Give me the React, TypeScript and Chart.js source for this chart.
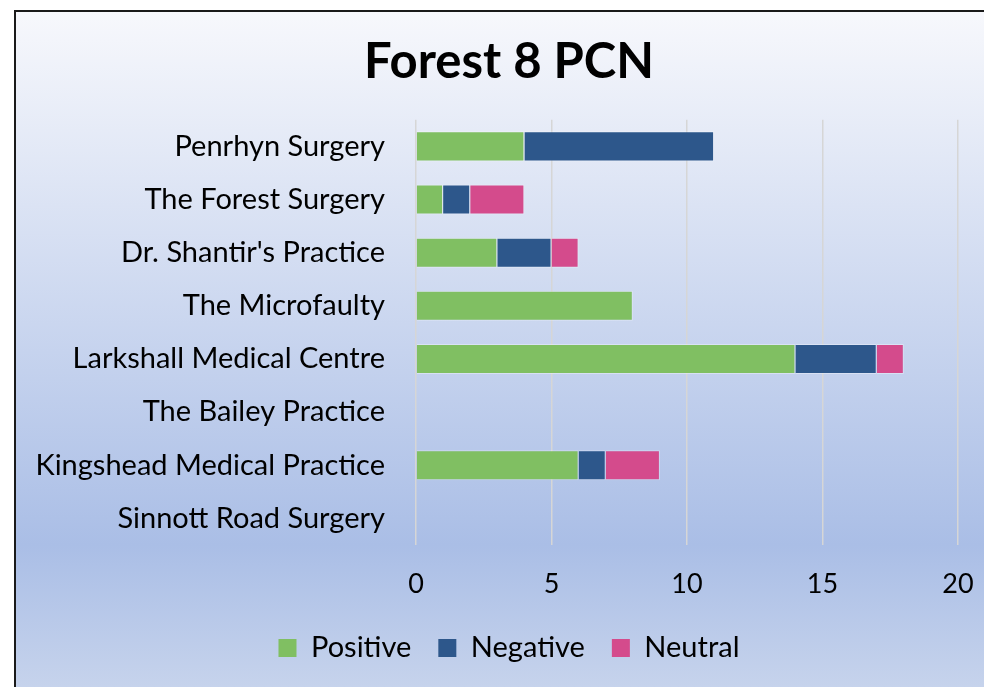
import React, { useEffect, useRef } from "react";
import { Chart, registerables } from "chart.js";

Chart.register(...registerables);

const categories = [
  "Penrhyn Surgery",
  "The Forest Surgery",
  "Dr. Shantir's Practice",
  "The Microfaulty",
  "Larkshall Medical Centre",
  "The Bailey Practice",
  "Kingshead Medical Practice",
  "Sinnott Road Surgery",
];
const positive = [4, 1, 3, 8, 14, 0, 6, 0];
const negative = [7, 1, 2, 0, 3, 0, 1, 0];
const neutral = [0, 2, 1, 0, 1, 0, 2, 0];
const xTicks = [0, 5, 10, 15, 20];

const FONT = "Lato, 'Open Sans', sans-serif";

export default function App() {
  const ref = useRef<HTMLCanvasElement | null>(null);

  useEffect(() => {
    if (!ref.current) return;
    const border = "rgba(255,255,255,0.35)";
    const chart = new Chart(ref.current, {
      type: "bar",
      data: {
        labels: categories,
        datasets: [
          { label: "Positive", data: positive, backgroundColor: "#80bf62", borderColor: border, borderWidth: 1 },
          { label: "Negative", data: negative, backgroundColor: "#2d578b", borderColor: border, borderWidth: 1 },
          { label: "Neutral", data: neutral, backgroundColor: "#d44b8c", borderColor: border, borderWidth: 1 },
        ],
      },
      options: {
        indexAxis: "y",
        animation: false,
        responsive: false,
        maintainAspectRatio: false,
        layout: { padding: { top: 0, left: 0, right: 0, bottom: 39.5 } },
        datasets: { bar: { categoryPercentage: 1, barPercentage: 0.565 } },
        scales: {
          x: {
            stacked: true,
            min: 0,
            max: 20,
            afterBuildTicks: (s: any) => {
              s.ticks = xTicks.map((v) => ({ value: v }));
            },
            afterFit: (s: any) => {
              s.height = 61.5;
              s.paddingRight = 44;
              s.paddingLeft = 0;
            },
            grid: { color: "#d6d6d6", lineWidth: 1.5, drawTicks: false },
            border: { display: false },
            ticks: { color: "#000", font: { family: FONT, size: 27 }, padding: 23 },
          },
          y: {
            stacked: true,
            afterFit: (s: any) => {
              s.width = 400;
            },
            grid: { display: false, drawTicks: false },
            border: { display: false },
            ticks: { color: "#000", font: { family: FONT, size: 29 }, padding: 31 },
          },
        },
        plugins: {
          tooltip: { enabled: false },
          title: {
            display: true,
            text: "Forest 8 PCN",
            color: "#000",
            font: { family: FONT, size: 49, weight: "bold" },
            padding: { top: 21, bottom: 28 },
          },
          legend: {
            position: "bottom",
            labels: {
              color: "#000",
              font: { family: FONT, size: 29 },
              boxWidth: 18,
              boxHeight: 18,
              padding: 27,
              generateLabels: (c: any) =>
                c.data.datasets.map((d: any, i: number) => ({
                  text: d.label,
                  fillStyle: d.backgroundColor,
                  strokeStyle: d.backgroundColor,
                  lineWidth: 0,
                  fontColor: "#000",
                  hidden: false,
                  datasetIndex: i,
                })),
            },
          },
        },
      },
    });
    return () => chart.destroy();
  }, []);

  return (
    <div style={{ position: "absolute", left: 0, top: 0, width: 984, height: 687, overflow: "hidden", background: "#fff" }}>
      <div
        style={{
          position: "absolute",
          left: 14,
          top: 10,
          width: 1000,
          height: 710,
          borderLeft: "2px solid #1a1a1a",
          borderTop: "2px solid #1a1a1a",
          background: "linear-gradient(to bottom, #f7f8fc 0px, #aabee6 533px, #c6d3ec 675px)",
        }}
      />
      <canvas ref={ref} width={986} height={700} style={{ position: "absolute", left: 16, top: 12, width: 986, height: 700 }} />
    </div>
  );
}
